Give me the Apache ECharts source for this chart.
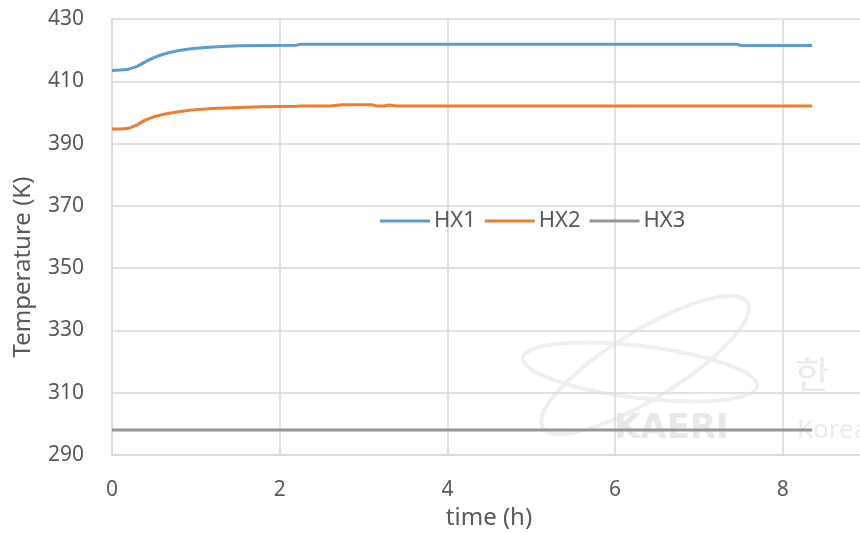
<!DOCTYPE html>
<html>
<head>
<meta charset="utf-8">
<script src="https://cdn.jsdelivr.net/npm/echarts@6/dist/echarts.min.js"></script>
<style>
  html, body { margin: 0; padding: 0; background: #fff; }
  #chart { width: 860px; height: 533px; }
</style>
</head>
<body>
<div id="chart"></div>
<script>
// Heat-exchanger temperatures over time
const timeH = [0, 0.1, 0.2, 0.3, 0.4, 0.5, 0.6, 0.7, 0.8, 0.9, 1.0, 1.2, 1.5, 1.8, 2.2, 2.25, 2.6, 2.75, 2.8, 3.1, 3.15, 3.25, 3.3, 3.4, 4, 5, 6, 7, 7.45, 7.5, 8, 8.35];
const hx1 = [413.5, 413.6, 413.9, 414.8, 416.3, 417.6, 418.6, 419.3, 419.9, 420.3, 420.6, 421.0, 421.4, 421.5, 421.6, 421.9, 421.9, 421.9, 421.9, 421.9, 421.9, 421.9, 421.9, 421.9, 421.9, 421.9, 421.9, 421.9, 421.9, 421.5, 421.5, 421.5];
const hx2 = [394.7, 394.7, 394.9, 396.0, 397.6, 398.6, 399.3, 399.8, 400.2, 400.6, 400.9, 401.3, 401.6, 401.8, 402.0, 402.1, 402.1, 402.5, 402.5, 402.5, 402.1, 402.1, 402.4, 402.1, 402.1, 402.1, 402.1, 402.1, 402.1, 402.1, 402.1, 402.1];
const hx3 = [298, 298, 298, 298, 298, 298, 298, 298, 298, 298, 298, 298, 298, 298, 298, 298, 298, 298, 298, 298, 298, 298, 298, 298, 298, 298, 298, 298, 298, 298, 298, 298];

const seriesNames = ['HX1', 'HX2', 'HX3'];
const seriesColors = ['#5b9bd5', '#ed7d31', '#969696'];
const yTicks = { min: 290, max: 430, step: 20 };
const xTicks = { min: 0, max: 10, step: 2 };

const FONT = '"Noto Sans", "Open Sans", sans-serif';
const TXT = '#595959';
const GRID = '#d9d9d9';

const pairs = (ys) => timeH.map((t, i) => [t, ys[i]]);

const chart = echarts.init(document.getElementById('chart'), null, { renderer: 'canvas' });

const watermark = '#efefef';

chart.setOption({
  animation: false,
  backgroundColor: '#fff',
  textStyle: { fontFamily: FONT },
  grid: { left: 112, top: 19, width: 838.5, height: 436, containLabel: false, outerBoundsMode: 'none' },
  legend: {
    data: seriesNames,
    left: 380, top: 210, padding: 0,
    icon: 'rect', itemWidth: 50, itemHeight: 3, itemGap: 9,
    textStyle: { fontFamily: FONT, fontSize: 22, color: TXT, padding: [0, 0, 0, -1] }
  },
  xAxis: {
    type: 'value',
    min: xTicks.min, max: xTicks.max, interval: xTicks.step,
    axisLine: { show: true, lineStyle: { color: GRID, width: 1.5 } },
    axisTick: { show: false },
    axisLabel: { color: TXT, fontSize: 21, fontFamily: FONT, margin: 25 },
    splitLine: { show: true, lineStyle: { color: GRID, width: 1.5 } }
  },
  yAxis: {
    type: 'value',
    min: yTicks.min, max: yTicks.max, interval: yTicks.step,
    axisLine: { show: true, lineStyle: { color: GRID, width: 1.5 } },
    axisTick: { show: false },
    axisLabel: { color: TXT, fontSize: 21, fontFamily: FONT, margin: 28 },
    splitLine: { show: true, lineStyle: { color: GRID, width: 1.5 } }
  },
  graphic: [
    // institute watermark
    { type: 'ellipse', z: 0, shape: { cx: 645, cy: 365, rx: 120, ry: 34 }, rotation: 0.55, originX: 645, originY: 365,
      style: { fill: 'none', stroke: watermark, lineWidth: 4 } },
    { type: 'ellipse', z: 0, shape: { cx: 640, cy: 372, rx: 118, ry: 26 }, rotation: -0.12, originX: 640, originY: 372,
      style: { fill: 'none', stroke: watermark, lineWidth: 4 } },
    { type: 'text', z: 0, left: 614, top: 412,
      style: { text: 'KAERI', font: 'bold 34px "DejaVu Sans", sans-serif', fill: '#e8e8e8' } },
    { type: 'text', z: 0, left: 795, top: 355,
      style: { text: '한', font: '38px "Noto Sans CJK KR", sans-serif', fill: '#ebebeb' } },
    { type: 'text', z: 0, left: 797, top: 418,
      style: { text: 'Korea', font: '26px "Noto Sans", sans-serif', fill: '#ebebeb' } },
    // axis titles
    { type: 'text', z: 10, x: 489, y: 518,
      style: { text: 'time (h)', font: '24px ' + FONT, fill: TXT, textAlign: 'center', textVerticalAlign: 'middle' } },
    { type: 'text', z: 10, x: 23, y: 267, rotation: Math.PI / 2,
      style: { text: 'Temperature (K)', font: '24px ' + FONT, fill: TXT, textAlign: 'center', textVerticalAlign: 'middle' } }
  ],
  series: seriesNames.map((name, i) => ({
    name,
    type: 'line',
    data: pairs([hx1, hx2, hx3][i]),
    showSymbol: false,
    symbol: 'none',
    smooth: false,
    z: 5,
    lineStyle: { color: seriesColors[i], width: 3 },
    itemStyle: { color: seriesColors[i] }
  }))
});
</script>
</body>
</html>
